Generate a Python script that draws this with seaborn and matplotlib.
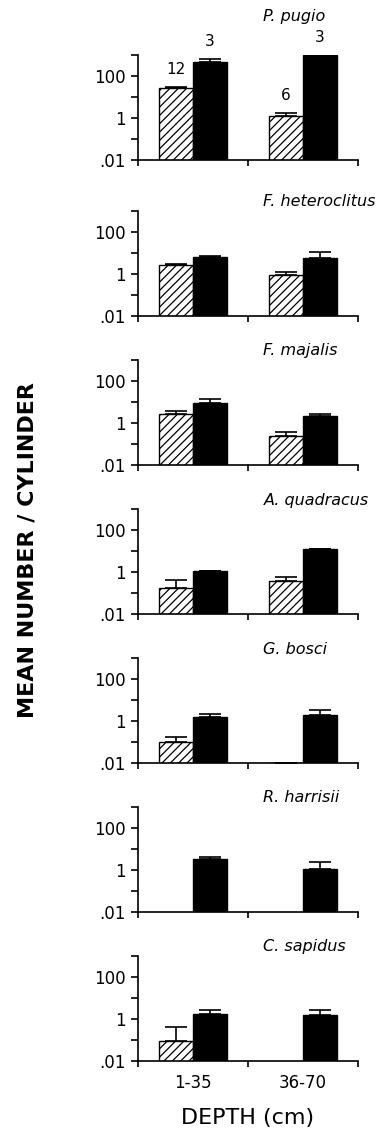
import numpy as np
import pandas as pd
import matplotlib
matplotlib.use("Agg")
import matplotlib.pyplot as plt
import seaborn as sns

sns.set_style("ticks", {"axes.edgecolor": "black", "text.color": "black",
                        "xtick.color": "black", "ytick.color": "black",
                        "axes.labelcolor": "black"})
plt.rcParams['font.family'] = ['DejaVu Sans']
plt.rcParams['hatch.linewidth'] = 0.9

#%%
species = ["P. pugio", "F. heteroclitus", "F. majalis", "A. quadracus",
           "G. bosci", "R. harrisii", "C. sapidus"]
depths = ["1-35", "36-70"]
series = ["hatched", "solid"]

# mean per cylinder, [1-35, 36-70]; 0 = no catch (no bar)
hatched_mean = [[27, 1.25], [2.7, 0.9], [2.7, 0.24], [0.17, 0.37],
                [0.1, 0.01], [0, 0], [0.09, 0]]
hatched_top = [[30, 1.7], [3.0, 1.25], [3.7, 0.37], [0.42, 0.58],
               [0.17, 0.01], [0, 0], [0.42, 0]]
solid_mean = [[460, 1000], [6.5, 5.8], [9, 2.1], [1.1, 12],
              [1.55, 1.9], [3.3, 1.1], [1.7, 1.55]]
solid_top = [[640, 1000], [7.0, 11], [14, 2.6], [1.15, 12.5],
             [2.1, 3.3], [4.2, 2.4], [2.7, 2.7]]

# sample sizes shown on the first panel
n_labels = {("hatched", 0): "12", ("solid", 0): "3",
            ("hatched", 1): "6", ("solid", 1): "3"}

yticks = [0.01, 0.1, 1, 10, 100, 1000]
yticklabels = [".01", "", "1", "", "100", ""]

#%%
W, H = 382, 1132
fig = plt.figure(figsize=(W / 100, H / 100), dpi=100)

tops_px = [55, 211, 360, 509, 658, 807, 956]
panel_h = 105

for i, sp in enumerate(species):
    rows = []
    for j, d in enumerate(depths):
        rows.append({"depth": d, "series": "hatched",
                     "mean": hatched_mean[i][j], "top": hatched_top[i][j], "k": j})
        rows.append({"depth": d, "series": "solid",
                     "mean": solid_mean[i][j], "top": solid_top[i][j], "k": j})
    df = pd.DataFrame(rows)
    df["depth"] = pd.Categorical(df["depth"], categories=depths)
    # zero catches drawn as empty bars far below the axis floor
    df["plot"] = df["mean"].where(df["mean"] > 0, 1e-9)

    ax = fig.add_axes([138 / W, 1 - (tops_px[i] + panel_h) / H,
                       220 / W, panel_h / H])
    ax.set_yscale("log")
    sns.barplot(data=df, x="depth", y="plot",
                hue="series", hue_order=series, order=depths,
                palette={"hatched": "white", "solid": "black"},
                edgecolor="black", linewidth=1, width=0.61, gap=0,
                errorbar=None, legend=False, ax=ax)

    for lev, cont in zip(series, ax.containers):
        sub = df[df.series == lev].sort_values("k")
        for bar, r in zip(cont, sub.itertuples()):
            if lev == "hatched":
                bar.set_hatch("////")
            if r.mean <= 0:
                bar.set_visible(False)
                continue
            cx = bar.get_x() + bar.get_width() / 2
            ax.errorbar(cx, r.mean, yerr=[[0], [r.top - r.mean]],
                        fmt="none", ecolor="black", elinewidth=1.2,
                        capsize=8, capthick=1.2, zorder=5)
            if i == 0:
                ax.annotate(n_labels[(lev, r.k)], (cx, max(r.top, r.mean)),
                            xytext=(0, 7), textcoords="offset points",
                            ha="center", va="bottom", fontsize=11,
                            annotation_clip=False)

    ax.set_ylim(0.01, 1000)
    ax.set_xlim(-0.5, 1.5)
    ax.set_yticks(yticks)
    ax.set_yticklabels(yticklabels)
    ax.yaxis.set_minor_locator(matplotlib.ticker.NullLocator())
    ax.set_xticks([-0.5, 0.5, 1.5], minor=True)
    ax.tick_params(axis="x", which="major", length=0, pad=9, labelsize=12)
    ax.tick_params(axis="x", which="minor", length=4, width=1.2, direction="out")
    ax.tick_params(axis="y", length=5, width=1.2, pad=4, labelsize=12)
    if i < len(species) - 1:
        ax.set_xticklabels([])
    ax.set_xlabel("")
    ax.set_ylabel("")
    for s in ["left", "bottom"]:
        ax.spines[s].set_linewidth(1.2)
    sns.despine(ax=ax)

    ty = 1 + (38 if i == 0 else 9) / panel_h
    ax.text(0.57, ty, sp, transform=ax.transAxes, ha="left", va="center",
            fontsize=11.5, style="italic")

fig.text(248 / W, 1 - 1118 / H, "DEPTH (cm)", ha="center", va="center",
         fontsize=16)
fig.text(28 / W, 1 - 550 / H, "MEAN NUMBER / CYLINDER", ha="center",
         va="center", rotation=90, fontsize=16, fontweight="bold")

fig.savefig("out.png", dpi=100)
